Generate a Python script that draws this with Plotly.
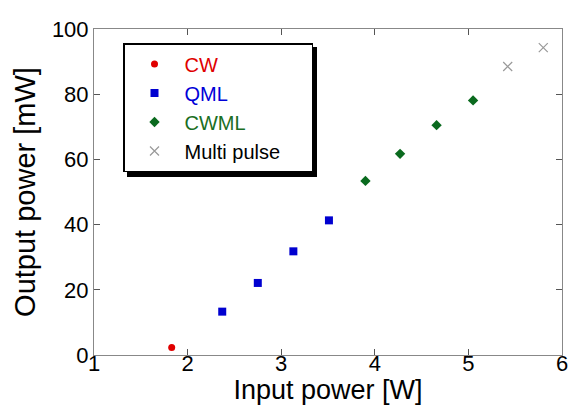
import plotly.graph_objects as go

cw_x = [1.83]
cw_y = [2.3]
qml_x = [2.37, 2.75, 3.13, 3.51]
qml_y = [13.3, 22.1, 31.8, 41.3]
cwml_x = [3.90, 4.27, 4.66, 5.05]
cwml_y = [53.4, 61.7, 70.5, 78.1]
multi_x = [5.42, 5.80]
multi_y = [88.5, 94.3]

x_ticks = [1, 2, 3, 4, 5, 6]
y_ticks = [0, 20, 40, 60, 80, 100]

FONT = "Arial, Liberation Sans, sans-serif"

fig = go.Figure()
fig.add_trace(go.Scatter(x=cw_x, y=cw_y, mode="markers",
                         name='<span style="color:#e00000">CW</span>',
                         marker=dict(symbol="circle", size=7, color="#e00000")))
fig.add_trace(go.Scatter(x=qml_x, y=qml_y, mode="markers",
                         name='<span style="color:#0000d8">QML</span>',
                         marker=dict(symbol="square", size=8, color="#0000d0")))
fig.add_trace(go.Scatter(x=cwml_x, y=cwml_y, mode="markers",
                         name='<span style="color:#1a6e23">CWML</span>',
                         marker=dict(symbol="diamond", size=8, color="#0a6a1e")))
fig.add_trace(go.Scatter(x=multi_x, y=multi_y, mode="markers",
                         name='<span style="color:#000000">Multi pulse</span>'
                              + "&nbsp;" * 4 + "&#8201;",
                         marker=dict(symbol="x-thin-open", size=9, color="#999999",
                                     line=dict(color="#999999", width=1.2))))

# legend drop shadow (pixel -> paper conversion)
W, H = 573, 405
ml, mr, mt, mb = 94, 11, 29, 50
pw, ph = W - ml - mr, H - mt - mb

def px(xp):
    return (xp - ml) / pw

def py(yp):
    return (H - mb - yp) / ph

fig.add_shape(type="rect", xref="paper", yref="paper",
              x0=px(127), x1=px(317), y0=py(177), y1=py(47),
              fillcolor="black", line=dict(width=0), layer="above")

axis_common = dict(
    showgrid=False, zeroline=False, showline=True, linecolor="#888888",
    linewidth=1, mirror="ticks", ticks="inside", ticklen=6,
    tickcolor="#555555", tickfont=dict(family=FONT, size=22, color="black"),
)

fig.update_xaxes(range=[1, 6], tickvals=x_ticks, ticklabelstandoff=-11,
                 title=dict(text="Input power [W]",
                            font=dict(family=FONT, size=27, color="black"),
                            standoff=2),
                 **axis_common)
fig.update_yaxes(range=[0, 100], tickvals=y_ticks, ticklabelstandoff=0,
                 title=dict(text="Output power [mW]",
                            font=dict(family=FONT, size=29, color="black"),
                            standoff=7),
                 **axis_common)

fig.update_layout(
    width=W, height=H,
    margin=dict(l=ml, r=mr, t=mt, b=mb, autoexpand=False),
    paper_bgcolor="white", plot_bgcolor="white",
    font=dict(family=FONT, color="black"),
    showlegend=True,
    legend=dict(x=px(123), y=py(43), xanchor="left", yanchor="top",
                bgcolor="white", bordercolor="black", borderwidth=1.5,
                font=dict(family=FONT, size=20),
                itemwidth=50, tracegroupgap=0),
)

fig.write_html("out.html")
